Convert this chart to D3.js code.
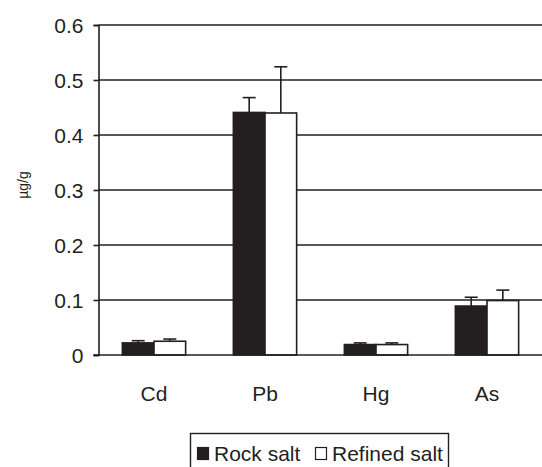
<!DOCTYPE html>
<html>
<head>
<meta charset="utf-8">
<script src="https://cdn.jsdelivr.net/npm/d3@7"></script>
<style>
  html, body { margin: 0; padding: 0; background: #fff; }
  svg { display: block; font-family: "Liberation Sans", Arial, sans-serif; }
</style>
</head>
<body>
<svg id="chart" width="542" height="467"></svg>
<script>
// ─── Data ────────────────────────────────────────────────────────────────────
const categories = ['Cd', 'Pb', 'Hg', 'As'];
const series = ['Rock salt', 'Refined salt'];
const rockSalt = [0.022, 0.441, 0.019, 0.089];
const refinedSalt = [0.025, 0.440, 0.019, 0.099];
const rockErr = [0.004, 0.027, 0.003, 0.016];
const refinedErr = [0.004, 0.084, 0.003, 0.019];
const yTicks = [0, 0.1, 0.2, 0.3, 0.4, 0.5, 0.6];

// ─── Layout ──────────────────────────────────────────────────────────────────
const W = 542, H = 467;
const M = { top: 25, right: 0, bottom: 112, left: 98.5 };
const INK = '#231f20';
const FONT_PX = '21px';

const svg = d3.select('#chart');

const x = d3.scaleBand()
  .domain(categories)
  .range([M.left, W - M.right + 0.5])
  .paddingInner(0.43)
  .paddingOuter(0.215);

const xs = d3.scaleBand()
  .domain(series)
  .range([0, x.bandwidth()]);

const y = d3.scaleLinear()
  .domain([0, 0.6])
  .range([H - M.bottom, M.top]);

const rows = categories.map((c, i) => ({
  cat: c,
  vals: [
    { s: series[0], v: rockSalt[i], e: rockErr[i] },
    { s: series[1], v: refinedSalt[i], e: refinedErr[i] },
  ],
}));

// ── Gridlines ────────────────────────────────────────────────────────────────
svg.append('g')
  .selectAll('line')
  .data(yTicks.filter(t => t > 0))
  .join('line')
  .attr('x1', M.left)
  .attr('x2', W)
  .attr('y1', d => y(d))
  .attr('y2', d => y(d))
  .attr('stroke', INK)
  .attr('stroke-width', 1.6);

// ── Y axis ───────────────────────────────────────────────────────────────────
const yAxis = svg.append('g')
  .attr('transform', `translate(${M.left},0)`)
  .call(d3.axisLeft(y).tickValues(yTicks).tickSize(5).tickPadding(10)
    .tickFormat(d => d === 0 ? '0' : d3.format('.1f')(d)));
yAxis.select('.domain').attr('stroke', INK).attr('stroke-width', 1.6);
yAxis.selectAll('.tick line').attr('stroke', INK).attr('stroke-width', 1.6);
yAxis.selectAll('.tick text')
  .attr('fill', INK)
  .attr('dy', '0.36em')
  .style('font-size', FONT_PX)
  .style('font-family', '"Liberation Sans", Arial, sans-serif');

svg.append('text')
  .attr('transform', `translate(28,${(M.top + H - M.bottom) / 2 - 5}) rotate(-90)`)
  .attr('text-anchor', 'middle')
  .attr('fill', INK)
  .style('font-size', '14px')
  .text('µg/g');

// ── Bars ─────────────────────────────────────────────────────────────────────
const group = svg.append('g')
  .selectAll('g')
  .data(rows)
  .join('g')
  .attr('transform', d => `translate(${x(d.cat)},0)`);

group.selectAll('rect')
  .data(d => d.vals)
  .join('rect')
  .attr('x', d => xs(d.s))
  .attr('y', d => y(d.v))
  .attr('width', xs.bandwidth())
  .attr('height', d => y(0) - y(d.v))
  .attr('fill', d => d.s === series[0] ? INK : '#fff')
  .attr('stroke', INK)
  .attr('stroke-width', 1.6);

// ── Error bars (upper half only) ─────────────────────────────────────────────
const err = group.selectAll('g.err')
  .data(d => d.vals)
  .join('g')
  .attr('class', 'err')
  .attr('stroke', INK)
  .attr('stroke-width', 1.6);

err.append('line')
  .attr('x1', d => xs(d.s) + xs.bandwidth() / 2)
  .attr('x2', d => xs(d.s) + xs.bandwidth() / 2)
  .attr('y1', d => y(d.v))
  .attr('y2', d => y(d.v + d.e));

err.append('line')
  .attr('x1', d => xs(d.s) + xs.bandwidth() / 2 - 6.5)
  .attr('x2', d => xs(d.s) + xs.bandwidth() / 2 + 6.5)
  .attr('y1', d => y(d.v + d.e))
  .attr('y2', d => y(d.v + d.e));

// ── X axis line + labels ─────────────────────────────────────────────────────
svg.append('line')
  .attr('x1', M.left - 5)
  .attr('x2', W)
  .attr('y1', y(0))
  .attr('y2', y(0))
  .attr('stroke', INK)
  .attr('stroke-width', 1.6);

svg.append('g')
  .selectAll('text')
  .data(categories)
  .join('text')
  .attr('x', d => x(d) + x.bandwidth() / 2)
  .attr('y', 401)
  .attr('text-anchor', 'middle')
  .attr('fill', INK)
  .style('font-size', FONT_PX)
  .text(d => d);

// ── Legend ───────────────────────────────────────────────────────────────────
const legend = svg.append('g');
legend.append('rect')
  .attr('x', 190.5)
  .attr('y', 433.5)
  .attr('width', 258)
  .attr('height', 40)
  .attr('fill', '#fff')
  .attr('stroke', INK)
  .attr('stroke-width', 1.4);

const legendX = [197, 315];
series.forEach((s, i) => {
  legend.append('rect')
    .attr('x', legendX[i] + 0.5)
    .attr('y', 447.5)
    .attr('width', 11)
    .attr('height', 12)
    .attr('fill', i === 0 ? INK : '#fff')
    .attr('stroke', INK)
    .attr('stroke-width', 1.2);
  legend.append('text')
    .attr('x', legendX[i] + 17)
    .attr('y', 461)
    .attr('fill', INK)
    .style('font-size', FONT_PX)
    .text(s);
});
</script>
</body>
</html>
